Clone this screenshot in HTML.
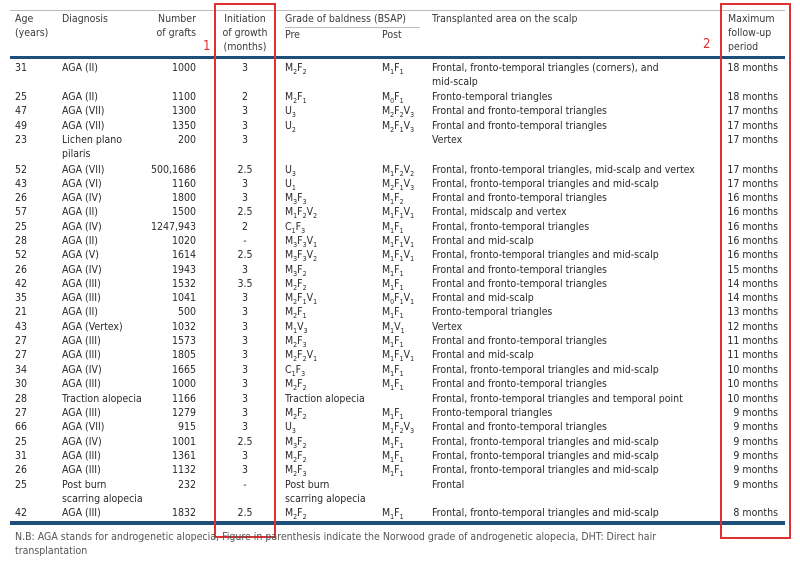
<!DOCTYPE html>
<html><head><meta charset="utf-8"><style>
body{margin:0;width:800px;height:567px;background:#fff;overflow:hidden;position:relative;font-family:"DejaVu Sans Condensed","Liberation Sans Narrow","Liberation Sans",sans-serif;font-size:10.5px;color:#2a2a2a;}
.r{position:absolute;left:0;width:800px;height:14px;line-height:14px;}
.r span{position:absolute;white-space:nowrap;}
.a{left:15px}.d{left:62px}.g{right:604px;text-align:right}.i{left:215px;width:60px;text-align:center}
.p{left:285px}.q{left:382px}.t{left:432px}.f{right:22px;text-align:right}
sub{font-size:7px;vertical-align:-3px;line-height:0}
.h{position:absolute;line-height:14px;color:#3a3a3a}
.line{position:absolute;background:#bbb;height:1px}
.red{position:absolute;border:2px solid #e03030;}
</style></head><body>
<div class="line" style="left:10px;top:10px;width:775px"></div>
<div class="h" style="left:15px;top:12px">Age<br>(years)</div>
<div class="h" style="left:62px;top:12px">Diagnosis</div>
<div class="h" style="left:150px;top:12px;width:46px;text-align:right">Number<br>of grafts</div>
<div class="h" style="left:215px;top:12px;width:60px;text-align:center">Initiation<br>of growth<br>(months)</div>
<div class="h" style="left:285px;top:12px">Grade of baldness (BSAP)</div>
<div class="line" style="left:285px;top:27px;width:135px"></div>
<div class="h" style="left:285px;top:28px">Pre</div>
<div class="h" style="left:382px;top:28px">Post</div>
<div class="h" style="left:432px;top:12px">Transplanted area on the scalp</div>
<div class="h" style="left:728px;top:12px">Maximum<br>follow-up<br>period</div>
<div class="h" style="left:203px;top:40px;color:#e03030;font-size:13px">1</div>
<div class="h" style="left:703px;top:38px;color:#e03030;font-size:13px">2</div>
<div style="position:absolute;left:10px;top:56px;width:775px;height:3px;background:#1d4f7a"></div>
<div style="position:absolute;left:10px;top:521px;width:775px;height:4px;background:#1d4f7a"></div>
<div class="red" style="left:214px;top:3px;width:58px;height:531px"></div>
<div class="red" style="left:720px;top:3px;width:67px;height:532px"></div>

<div class="r" style="top:61px"><span class="a">31</span><span class="d">AGA (II)</span><span class="g">1000</span><span class="i">3</span><span class="p">M<sub>2</sub>F<sub>2</sub></span><span class="q">M<sub>1</sub>F<sub>1</sub></span><span class="t">Frontal, fronto-temporal triangles (corners), and<br>mid-scalp</span><span class="f">18 months</span></div>
<div class="r" style="top:90px"><span class="a">25</span><span class="d">AGA (II)</span><span class="g">1100</span><span class="i">2</span><span class="p">M<sub>2</sub>F<sub>1</sub></span><span class="q">M<sub>0</sub>F<sub>1</sub></span><span class="t">Fronto-temporal triangles</span><span class="f">18 months</span></div>
<div class="r" style="top:104px"><span class="a">47</span><span class="d">AGA (VII)</span><span class="g">1300</span><span class="i">3</span><span class="p">U<sub>3</sub></span><span class="q">M<sub>2</sub>F<sub>2</sub>V<sub>3</sub></span><span class="t">Frontal and fronto-temporal triangles</span><span class="f">17 months</span></div>
<div class="r" style="top:119px"><span class="a">49</span><span class="d">AGA (VII)</span><span class="g">1350</span><span class="i">3</span><span class="p">U<sub>2</sub></span><span class="q">M<sub>2</sub>F<sub>1</sub>V<sub>3</sub></span><span class="t">Frontal and fronto-temporal triangles</span><span class="f">17 months</span></div>
<div class="r" style="top:133px"><span class="a">23</span><span class="d">Lichen plano<br>pilaris</span><span class="g">200</span><span class="i">3</span><span class="t">Vertex</span><span class="f">17 months</span></div>
<div class="r" style="top:163px"><span class="a">52</span><span class="d">AGA (VII)</span><span class="g">500,1686</span><span class="i">2.5</span><span class="p">U<sub>3</sub></span><span class="q">M<sub>1</sub>F<sub>2</sub>V<sub>2</sub></span><span class="t">Frontal, fronto-temporal triangles, mid-scalp and vertex</span><span class="f">17 months</span></div>
<div class="r" style="top:177px"><span class="a">43</span><span class="d">AGA (VI)</span><span class="g">1160</span><span class="i">3</span><span class="p">U<sub>1</sub></span><span class="q">M<sub>2</sub>F<sub>1</sub>V<sub>3</sub></span><span class="t">Frontal, fronto-temporal triangles and mid-scalp</span><span class="f">17 months</span></div>
<div class="r" style="top:191px"><span class="a">26</span><span class="d">AGA (IV)</span><span class="g">1800</span><span class="i">3</span><span class="p">M<sub>3</sub>F<sub>3</sub></span><span class="q">M<sub>1</sub>F<sub>2</sub></span><span class="t">Frontal and fronto-temporal triangles</span><span class="f">16 months</span></div>
<div class="r" style="top:205px"><span class="a">57</span><span class="d">AGA (II)</span><span class="g">1500</span><span class="i">2.5</span><span class="p">M<sub>1</sub>F<sub>2</sub>V<sub>2</sub></span><span class="q">M<sub>1</sub>F<sub>1</sub>V<sub>1</sub></span><span class="t">Frontal, midscalp and vertex</span><span class="f">16 months</span></div>
<div class="r" style="top:220px"><span class="a">25</span><span class="d">AGA (IV)</span><span class="g">1247,943</span><span class="i">2</span><span class="p">C<sub>1</sub>F<sub>3</sub></span><span class="q">M<sub>1</sub>F<sub>1</sub></span><span class="t">Frontal, fronto-temporal triangles</span><span class="f">16 months</span></div>
<div class="r" style="top:234px"><span class="a">28</span><span class="d">AGA (II)</span><span class="g">1020</span><span class="i">-</span><span class="p">M<sub>3</sub>F<sub>3</sub>V<sub>1</sub></span><span class="q">M<sub>1</sub>F<sub>1</sub>V<sub>1</sub></span><span class="t">Frontal and mid-scalp</span><span class="f">16 months</span></div>
<div class="r" style="top:248px"><span class="a">52</span><span class="d">AGA (V)</span><span class="g">1614</span><span class="i">2.5</span><span class="p">M<sub>3</sub>F<sub>3</sub>V<sub>2</sub></span><span class="q">M<sub>1</sub>F<sub>1</sub>V<sub>1</sub></span><span class="t">Frontal, fronto-temporal triangles and mid-scalp</span><span class="f">16 months</span></div>
<div class="r" style="top:263px"><span class="a">26</span><span class="d">AGA (IV)</span><span class="g">1943</span><span class="i">3</span><span class="p">M<sub>3</sub>F<sub>2</sub></span><span class="q">M<sub>1</sub>F<sub>1</sub></span><span class="t">Frontal and fronto-temporal triangles</span><span class="f">15 months</span></div>
<div class="r" style="top:277px"><span class="a">42</span><span class="d">AGA (III)</span><span class="g">1532</span><span class="i">3.5</span><span class="p">M<sub>2</sub>F<sub>2</sub></span><span class="q">M<sub>1</sub>F<sub>1</sub></span><span class="t">Frontal and fronto-temporal triangles</span><span class="f">14 months</span></div>
<div class="r" style="top:291px"><span class="a">35</span><span class="d">AGA (III)</span><span class="g">1041</span><span class="i">3</span><span class="p">M<sub>2</sub>F<sub>1</sub>V<sub>1</sub></span><span class="q">M<sub>0</sub>F<sub>1</sub>V<sub>1</sub></span><span class="t">Frontal and mid-scalp</span><span class="f">14 months</span></div>
<div class="r" style="top:305px"><span class="a">21</span><span class="d">AGA (II)</span><span class="g">500</span><span class="i">3</span><span class="p">M<sub>2</sub>F<sub>1</sub></span><span class="q">M<sub>1</sub>F<sub>1</sub></span><span class="t">Fronto-temporal triangles</span><span class="f">13 months</span></div>
<div class="r" style="top:320px"><span class="a">43</span><span class="d">AGA (Vertex)</span><span class="g">1032</span><span class="i">3</span><span class="p">M<sub>1</sub>V<sub>3</sub></span><span class="q">M<sub>1</sub>V<sub>1</sub></span><span class="t">Vertex</span><span class="f">12 months</span></div>
<div class="r" style="top:334px"><span class="a">27</span><span class="d">AGA (III)</span><span class="g">1573</span><span class="i">3</span><span class="p">M<sub>2</sub>F<sub>3</sub></span><span class="q">M<sub>1</sub>F<sub>1</sub></span><span class="t">Frontal and fronto-temporal triangles</span><span class="f">11 months</span></div>
<div class="r" style="top:348px"><span class="a">27</span><span class="d">AGA (III)</span><span class="g">1805</span><span class="i">3</span><span class="p">M<sub>2</sub>F<sub>2</sub>V<sub>1</sub></span><span class="q">M<sub>1</sub>F<sub>1</sub>V<sub>1</sub></span><span class="t">Frontal and mid-scalp</span><span class="f">11 months</span></div>
<div class="r" style="top:363px"><span class="a">34</span><span class="d">AGA (IV)</span><span class="g">1665</span><span class="i">3</span><span class="p">C<sub>1</sub>F<sub>3</sub></span><span class="q">M<sub>1</sub>F<sub>1</sub></span><span class="t">Frontal, fronto-temporal triangles and mid-scalp</span><span class="f">10 months</span></div>
<div class="r" style="top:377px"><span class="a">30</span><span class="d">AGA (III)</span><span class="g">1000</span><span class="i">3</span><span class="p">M<sub>2</sub>F<sub>2</sub></span><span class="q">M<sub>1</sub>F<sub>1</sub></span><span class="t">Frontal and fronto-temporal triangles</span><span class="f">10 months</span></div>
<div class="r" style="top:392px"><span class="a">28</span><span class="d">Traction alopecia</span><span class="g">1166</span><span class="i">3</span><span class="p">Traction alopecia</span><span class="t">Frontal, fronto-temporal triangles and temporal point</span><span class="f">10 months</span></div>
<div class="r" style="top:406px"><span class="a">27</span><span class="d">AGA (III)</span><span class="g">1279</span><span class="i">3</span><span class="p">M<sub>2</sub>F<sub>2</sub></span><span class="q">M<sub>1</sub>F<sub>1</sub></span><span class="t">Fronto-temporal triangles</span><span class="f">9 months</span></div>
<div class="r" style="top:420px"><span class="a">66</span><span class="d">AGA (VII)</span><span class="g">915</span><span class="i">3</span><span class="p">U<sub>3</sub></span><span class="q">M<sub>1</sub>F<sub>2</sub>V<sub>3</sub></span><span class="t">Frontal and fronto-temporal triangles</span><span class="f">9 months</span></div>
<div class="r" style="top:435px"><span class="a">25</span><span class="d">AGA (IV)</span><span class="g">1001</span><span class="i">2.5</span><span class="p">M<sub>3</sub>F<sub>2</sub></span><span class="q">M<sub>1</sub>F<sub>1</sub></span><span class="t">Frontal, fronto-temporal triangles and mid-scalp</span><span class="f">9 months</span></div>
<div class="r" style="top:449px"><span class="a">31</span><span class="d">AGA (III)</span><span class="g">1361</span><span class="i">3</span><span class="p">M<sub>2</sub>F<sub>2</sub></span><span class="q">M<sub>1</sub>F<sub>1</sub></span><span class="t">Frontal, fronto-temporal triangles and mid-scalp</span><span class="f">9 months</span></div>
<div class="r" style="top:463px"><span class="a">26</span><span class="d">AGA (III)</span><span class="g">1132</span><span class="i">3</span><span class="p">M<sub>2</sub>F<sub>3</sub></span><span class="q">M<sub>1</sub>F<sub>1</sub></span><span class="t">Frontal, fronto-temporal triangles and mid-scalp</span><span class="f">9 months</span></div>
<div class="r" style="top:478px"><span class="a">25</span><span class="d">Post burn<br>scarring alopecia</span><span class="g">232</span><span class="i">-</span><span class="p">Post burn<br>scarring alopecia</span><span class="t">Frontal</span><span class="f">9 months</span></div>
<div class="r" style="top:506px"><span class="a">42</span><span class="d">AGA (III)</span><span class="g">1832</span><span class="i">2.5</span><span class="p">M<sub>2</sub>F<sub>2</sub></span><span class="q">M<sub>1</sub>F<sub>1</sub></span><span class="t">Frontal, fronto-temporal triangles and mid-scalp</span><span class="f">8 months</span></div>

<div class="h" style="left:15px;top:530px;width:700px;color:#555">N.B: AGA stands for androgenetic alopecia, Figure in parenthesis indicate the Norwood grade of androgenetic alopecia, DHT: Direct hair transplantation</div>
</body></html>
